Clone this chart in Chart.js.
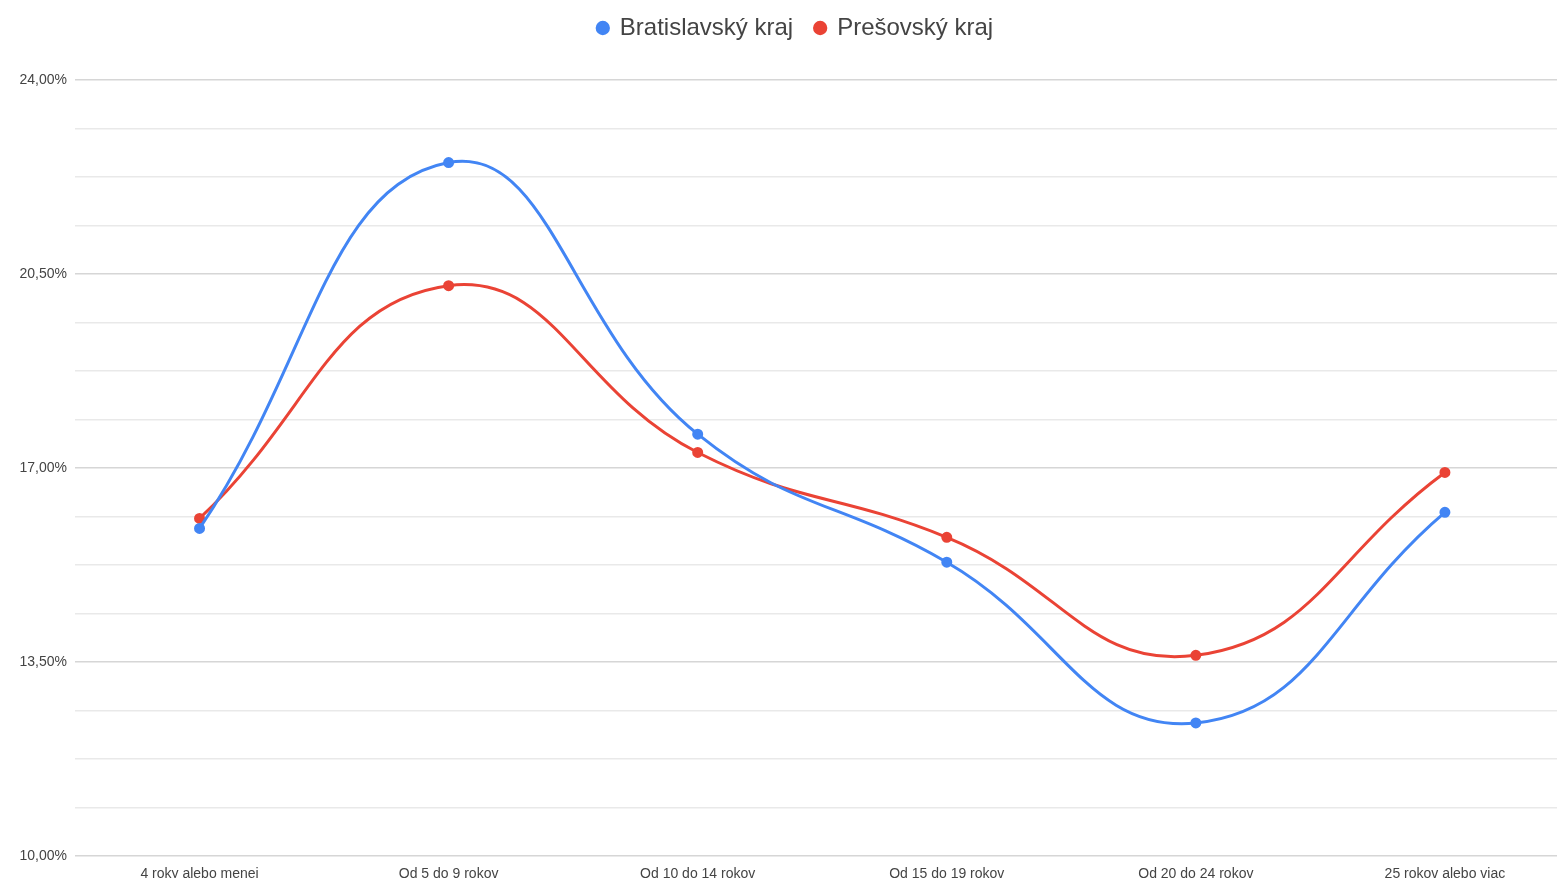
<!DOCTYPE html>
<html>
<head>
<meta charset="utf-8">
<script src="https://cdn.jsdelivr.net/npm/chart.js@4/dist/chart.umd.min.js"></script>
<style>
  html, body { margin: 0; padding: 0; background: #ffffff; overflow: hidden; }
  #wrap { width: 1557px; height: 878px; }
</style>
</head>
<body>
<div id="wrap"><canvas id="ageChart"></canvas></div>
<script>
// categories (age groups)
var categories = ["4 roky alebo menej", "Od 5 do 9 rokov", "Od 10 do 14 rokov",
                  "Od 15 do 19 rokov", "Od 20 do 24 rokov", "25 rokov alebo viac"];

// series values in %
var bratislava = [15.91, 22.51, 17.61, 15.30, 12.40, 16.20];
var presov     = [16.09, 20.29, 17.28, 15.75, 13.62, 16.92];

// y axis: labelled ticks and minor grid step
var yLabelTicks = [10, 13.5, 17, 20.5, 24];
var yMinorStep = 0.875;

function isMajor(v){
    for(var i = 0; i < yLabelTicks.length; i++){
        if(Math.abs(yLabelTicks[i] - v) < 1e-6) return true;
    }
    return false;
}

function toPoints(arr){
    var pts = [];
    for(var i = 0; i < arr.length; i++){
        pts.push({x: i, y: arr[i]});
    }
    return pts;
}

// extra space below the legend, legend nudged a bit to the right
var legendGap = {
    id: "legendGap",
    beforeInit: function(chart){
        var origFit = chart.legend.fit;
        chart.legend.fit = function(){
            origFit.bind(chart.legend)();
            this.height += 30;
        };
    },
    afterLayout: function(chart){
        chart.legend.left += 17;
        chart.legend.right += 17;
    }
};

var ctx = document.getElementById("ageChart");

var myData = {
    datasets : [{
        label: "Bratislavský kraj",
        data: toPoints(bratislava),
        borderColor: "#4285f4",
        backgroundColor: "#4285f4",
        borderWidth: 3,
        pointRadius: 4,
        pointHoverRadius: 5,
        tension: 0.45
    }, {
        label: "Prešovský kraj",
        data: toPoints(presov),
        borderColor: "#ea4335",
        backgroundColor: "#ea4335",
        borderWidth: 3,
        pointRadius: 4,
        pointHoverRadius: 5,
        tension: 0.45
    }]
};

var graph = new Chart(ctx, {
    type: "line",
    data: myData,
    plugins: [legendGap],
    options: {
        responsive: true,
        maintainAspectRatio: false,
        animation: false,
        layout: { autoPadding: false, padding: { top: -6, right: 0, left: 0, bottom: 0 } },
        plugins: {
            legend: {
                position: "top",
                labels: {
                    usePointStyle: true,
                    pointStyle: "circle",
                    boxWidth: 10,
                    boxHeight: 8,
                    padding: 22,
                    color: "#444444",
                    font: { family: "Liberation Sans, Arial, sans-serif", size: 24 }
                }
            },
            tooltip: { enabled: true }
        },
        scales: {
            x: {
                type: "linear",
                min: -0.5,
                max: 5.45,
                grid: { display: false },
                border: { display: false },
                afterBuildTicks: function(scale){
                    scale.ticks = categories.map(function(c, i){ return {value: i}; });
                },
                afterFit: function(scale){ scale.height = 22; },
                ticks: {
                    autoSkip: false,
                    maxRotation: 0,
                    padding: 2,
                    color: "#444444",
                    font: { family: "Liberation Sans, Arial, sans-serif", size: 14 },
                    callback: function(value){
                        return categories[value] !== undefined ? categories[value] : "";
                    }
                }
            },
            y: {
                min: 10,
                max: 24,
                border: { display: false },
                afterBuildTicks: function(scale){
                    var t = [];
                    for(var v = 10; v <= 24 + 1e-6; v += yMinorStep){
                        t.push({value: Math.round(v * 1000) / 1000});
                    }
                    scale.ticks = t;
                },
                afterFit: function(scale){ scale.width = 75; },
                grid: {
                    drawTicks: false,
                    lineWidth: 1.5,
                    color: function(c){
                        if(c.tick && isMajor(c.tick.value)) return "#d6d6d6";
                        return "#e9e9e9";
                    }
                },
                ticks: {
                    autoSkip: false,
                    padding: 8,
                    color: "#444444",
                    font: { family: "Liberation Sans, Arial, sans-serif", size: 14 },
                    callback: function(value){
                        if(!isMajor(value)) return "";
                        return value.toFixed(2).replace(".", ",") + "%";
                    }
                }
            }
        }
    }
});
</script>
</body>
</html>
